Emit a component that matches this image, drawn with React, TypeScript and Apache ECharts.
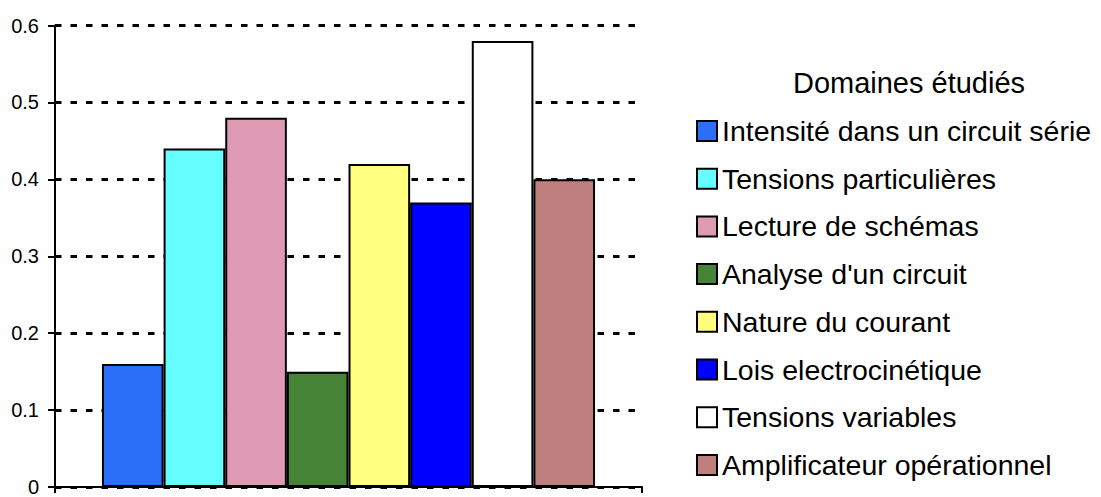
import React, { useEffect, useRef } from "react";
import * as echarts from "echarts";

const seriesNames = [
  "Intensité dans un circuit série",
  "Tensions particulières",
  "Lecture de schémas",
  "Analyse d'un circuit",
  "Nature du courant",
  "Lois electrocinétique",
  "Tensions variables",
  "Amplificateur opérationnel",
];
const seriesValues = [0.16, 0.44, 0.48, 0.15, 0.42, 0.37, 0.58, 0.4];
const seriesColors = [
  "#2B6FF9",
  "#66FFFF",
  "#DF9AB3",
  "#478336",
  "#FFFF80",
  "#0000FF",
  "#FFFFFF",
  "#BF7F7F",
];
const categories = [""];
const legendTitle = "Domaines étudiés";

const FONT = "'Liberation Sans', Arial, sans-serif";

export default function App() {
  const ref = useRef<HTMLDivElement>(null);
  useEffect(() => {
    if (!ref.current) return;
    const chart = echarts.init(ref.current, undefined, { renderer: "svg" });
    chart.setOption({
      animation: false,
      backgroundColor: "#ffffff",
      textStyle: { fontFamily: FONT },
      grid: { left: 55, right: 459, top: 25.5, bottom: 5.3, containLabel: false },
      xAxis: {
        type: "category",
        data: categories,
        axisLine: { show: true, lineStyle: { color: "#000", width: 2 } },
        axisTick: { show: true, length: 6, lineStyle: { color: "#000", width: 2 } },
        axisLabel: { show: false },
        splitLine: { show: false },
      },
      yAxis: {
        type: "value",
        min: 0,
        max: 0.6,
        interval: 0.1,
        axisLine: { show: true, lineStyle: { color: "#000", width: 2 } },
        axisTick: { show: true, length: 7, lineStyle: { color: "#000", width: 2 } },
        axisLabel: { color: "#000", fontSize: 20, fontFamily: FONT, margin: 16 },
        splitLine: {
          show: true,
          lineStyle: { color: "#000", width: 3, type: [6.5, 9] },
        },
      },
      legend: {
        orient: "vertical",
        left: 696,
        top: 116.5,
        padding: 0,
        itemWidth: 20,
        itemHeight: 20,
        itemGap: 18.7,
        icon: "rect",
        textStyle: { color: "#000", fontSize: 28.5, fontFamily: FONT },
        data: seriesNames,
      },
      graphic: [
        {
          type: "text",
          x: 909,
          y: 83,
          style: {
            text: legendTitle,
            fill: "#000",
            font: `29px ${FONT}`,
            textAlign: "center",
            textVerticalAlign: "middle",
          },
        },
      ],
      series: seriesNames.map((name, i) => ({
        name,
        type: "bar",
        data: [seriesValues[i]],
        barGap: "0%",
        barCategoryGap: "16%",
        itemStyle: { color: seriesColors[i], borderColor: "#000", borderWidth: 2 },
        emphasis: { disabled: true },
      })),
    });
    return () => chart.dispose();
  }, []);
  return (
    <div
      ref={ref}
      style={{ position: "fixed", left: 0, top: 0, width: 1101, height: 497 }}
    />
  );
}
